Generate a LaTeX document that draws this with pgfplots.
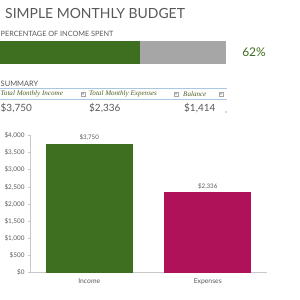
\documentclass[border=0pt]{standalone}
\usepackage{pgfplots}
\pgfplotsset{compat=1.18}
\usepackage{fontspec}
\setmainfont{Lato}
\newfontfamily\hdrfont{Liberation Serif}
\definecolor{bgreen}{RGB}{62,110,31}
\definecolor{bmag}{RGB}{176,18,90}
\definecolor{pgray}{RGB}{166,166,166}
\definecolor{tgray}{RGB}{89,89,89}
\definecolor{hgreen}{RGB}{79,98,40}
\definecolor{lblue}{RGB}{170,200,225}
\definecolor{axgray}{RGB}{200,200,200}
\begin{document}
\begin{tikzpicture}
\useasboundingbox[fill=white] (0,0) rectangle (300bp,-300bp);
% title
\node[anchor=west,text=tgray,inner sep=0pt] at (5bp,-14bp) {\fontsize{14}{15}\selectfont SIMPLE MONTHLY BUDGET};
\node[anchor=west,text=tgray,inner sep=0pt] at (0.5bp,-34bp) {\fontsize{7.3}{8}\selectfont PERCENTAGE OF INCOME SPENT};
% progress bar
\begin{axis}[at={(0bp,-41bp)},anchor=north west,scale only axis,width=226bp,height=23bp,
  xbar stacked,xmin=0,xmax=100,ymin=-0.5,ymax=0.5,bar width=23bp,hide axis,enlargelimits=false]
\addplot[fill=bgreen,draw=none] coordinates {(62,0)};
\addplot[fill=pgray,draw=none] coordinates {(38,0)};
\end{axis}
\node[text=bgreen,inner sep=0pt] at (254bp,-52.5bp) {\fontsize{12}{13}\selectfont 62\%};
% summary
\node[anchor=west,text=tgray,inner sep=0pt] at (0.5bp,-84bp) {\fontsize{7.5}{8}\selectfont SUMMARY};
\draw[lblue,line width=0.8bp] (0bp,-88.3bp) -- (227bp,-88.3bp);
\draw[lblue,line width=0.5bp] (0bp,-99.3bp) -- (227bp,-99.3bp);
\node[anchor=west,text=hgreen,inner sep=0pt] at (0.5bp,-94bp) {\hdrfont\itshape\fontsize{7.1}{8}\selectfont Total Monthly Income};
\node[anchor=west,text=hgreen,inner sep=0pt] at (89bp,-94bp) {\hdrfont\itshape\fontsize{7.1}{8}\selectfont Total Monthly Expenses};
\node[anchor=west,text=hgreen,inner sep=0pt] at (183bp,-94bp) {\hdrfont\itshape\fontsize{7.1}{8}\selectfont Balance};
\foreach \xx in {83,176,221}{
  \draw[gray!70,fill=white,line width=0.3bp] (\xx bp-2bp,-92bp) rectangle (\xx bp+2bp,-96bp);
  \fill[gray] (\xx bp-1bp,-93.4bp) -- (\xx bp+1bp,-93.4bp) -- (\xx bp,-94.8bp) -- cycle;
}
\node[anchor=west,text=tgray,inner sep=0pt] at (0.5bp,-108bp) {\fontsize{10}{11}\selectfont \$3,750};
\node[anchor=west,text=tgray,inner sep=0pt] at (89bp,-108bp) {\fontsize{10}{11}\selectfont \$2,336};
\node[anchor=west,text=tgray,inner sep=0pt] at (184bp,-108bp) {\fontsize{10}{11}\selectfont \$1,414};
\fill[tgray] (226bp,-112bp) circle (0.6bp);
% chart
\begin{axis}[at={(30bp,-272.7bp)},anchor=south west,scale only axis,width=237bp,height=137.4bp,
  ymin=0,ymax=4000,xmin=-0.5,xmax=1.5,
  axis x line=bottom,axis y line=left,
  axis line style={axgray,-,line width=0.6bp},
  ytick distance=500,
  yticklabel={\$\pgfmathprintnumber{\tick}},
  /pgf/number format/1000 sep={,},
  /pgf/number format/assume math mode=true,
  yticklabel style={font=\fontsize{6.4}{7}\selectfont,text=tgray},
  xticklabel style={font=\fontsize{6.8}{7}\selectfont,text=tgray},
  xtick={0,1},xticklabels={Income,Expenses},
  major x tick style={draw=none},
  extra x ticks={-0.5,0.5,1.5},extra x tick labels={},
  extra x tick style={tick style={axgray,line width=0.5bp},major tick length=3bp,tick align=outside},
  y tick style={axgray,line width=0.5bp},major tick length=2bp,tick align=outside,
  ybar,bar width=87bp,bar shift=0pt,
  nodes near coords={\$\pgfmathprintnumber{\pgfplotspointmeta}},
  nodes near coords style={font=\fontsize{6.2}{7}\selectfont,text=tgray},
  every node near coord/.append style={/pgf/number format/1000 sep={,},/pgf/number format/assume math mode=true},
  clip=false]
\addplot[fill=bmag,draw=none] coordinates {(1,2336)};
\addplot[fill=bgreen,draw=none] coordinates {(0,3750)};
\end{axis}
\end{tikzpicture}
\end{document}
